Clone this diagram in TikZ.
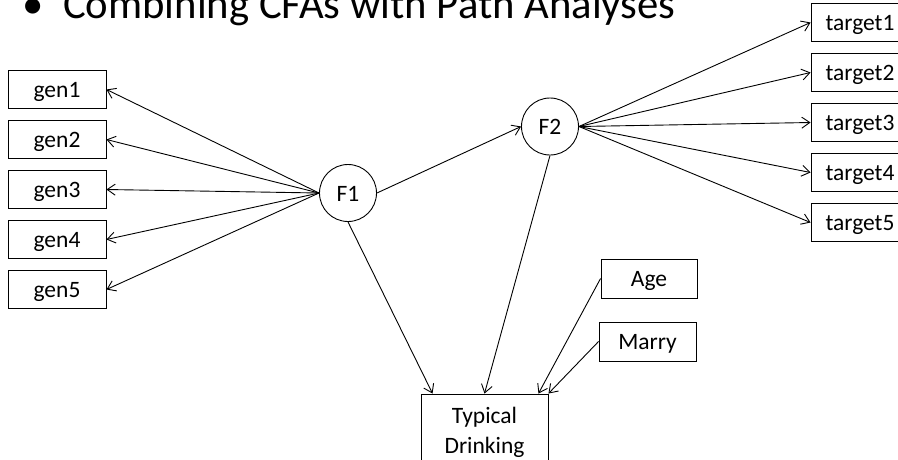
\documentclass[tikz,border=0pt]{standalone}
\usepackage{fontspec}
\setmainfont{Carlito}
\usetikzlibrary{arrows.meta}
\begin{document}
\begin{tikzpicture}[x=1pt,y=-1pt,
  box/.style={draw, line width=0.9pt, minimum width=98pt, minimum height=38pt, inner sep=0pt, text height=16pt, text depth=0pt, font=\fontsize{23.5}{28}\selectfont},
  latent/.style={draw, circle, line width=0.9pt, minimum size=57pt, inner sep=0pt, text height=16pt, text depth=0pt, font=\fontsize{23.5}{28}\selectfont},
  arr/.style={-{Straight Barb[length=8pt,width=11pt]}, line width=0.9pt},
  title/.style={inner sep=0pt, font=\fontsize{42.7}{50}\selectfont}]
\useasboundingbox (0,0) rectangle (898,459);
\clip (0,0) rectangle (898,459);
% title
\node[title, anchor=base] (bullet) at (33,18) {•};
\node[title, anchor=base west] (ttl) at (63,18) {Combining CFAs with Path Analyses};
% observed indicators
\node[box] (gen1) at (57,89.5) {gen1};
\node[box] (gen2) at (57,139.5) {gen2};
\node[box] (gen3) at (57,189.5) {gen3};
\node[box] (gen4) at (57,239.5) {gen4};
\node[box] (gen5) at (57,289.5) {gen5};
\node[box] (t1) at (860,22.5) {target1};
\node[box] (t2) at (860,72.5) {target2};
\node[box] (t3) at (860,122.5) {target3};
\node[box] (t4) at (860,172.5) {target4};
\node[box] (t5) at (860,222.5) {target5};
\node[box, minimum width=96pt, minimum height=39pt] (age) at (649,278.5) {Age};
\node[box, minimum width=97pt, minimum height=39pt] (marry) at (647.5,341.5) {Marry};
\node[box, minimum width=127pt, minimum height=76pt, align=center, text height=, text depth=, font=\fontsize{23.5}{30}\selectfont] (td) at (484.5,432) {Typical\\Drinking};
% latent
\node[latent] (F1) at (348,193) {F1};
\node[latent] (F2) at (550,126.5) {F2};
% connectors
\foreach \g in {gen1,gen2,gen3,gen4,gen5} \draw[arr] (F1.west) -- (\g.east);
\foreach \t in {t1,t2,t3,t4,t5} \draw[arr] (F2.east) -- (\t.west);
\draw[arr] (F1.east) -- (F2.west);
\draw[arr] (F1.south) -- ([xshift=12pt]td.north west);
\draw[arr] (F2.south) -- (td.north);
\draw[arr] (age.west) -- ([xshift=-10pt]td.north east);
\draw[arr] (marry.west) -- (td.north east);
\end{tikzpicture}
\end{document}
